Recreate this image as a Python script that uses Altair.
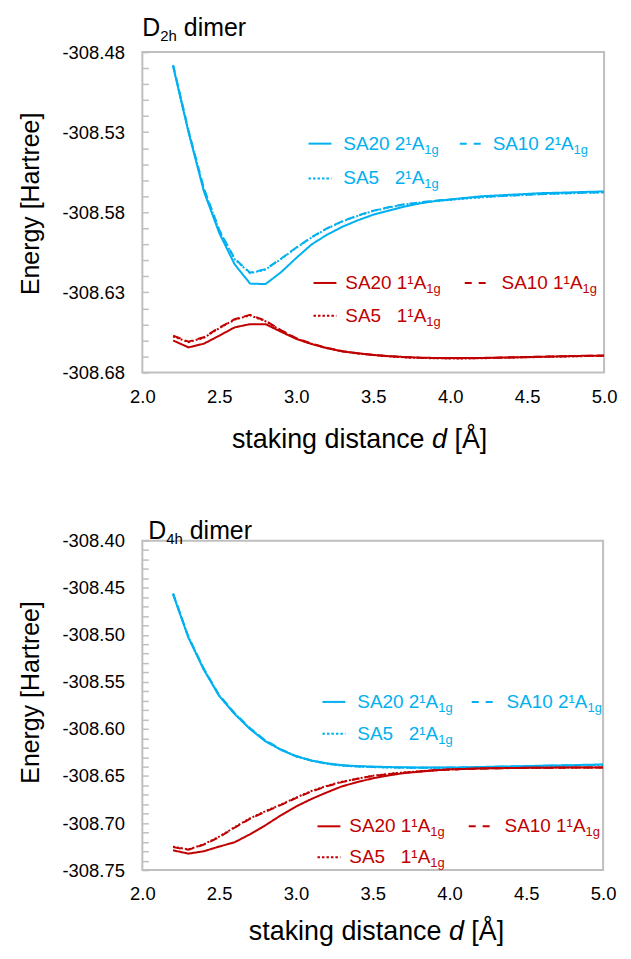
import altair as alt
import pandas as pd

# ---------------- data ----------------
d = [2.2, 2.3, 2.4, 2.5, 2.6, 2.7, 2.8, 2.9, 3.0, 3.1, 3.2, 3.3, 3.4, 3.5, 3.6,
     3.7, 3.8, 3.9, 4.0, 4.1, 4.2, 4.3, 4.4, 4.5, 4.6, 4.7, 4.8, 4.9, 5.0]

d2h_sa20_2 = [-308.489, -308.530, -308.567, -308.593, -308.6125, -308.6245, -308.6248, -308.6175, -308.6085,
              -308.600, -308.594, -308.589, -308.585, -308.5815, -308.579, -308.5765, -308.5745, -308.573,
              -308.572, -308.571, -308.570, -308.5695, -308.569, -308.5685, -308.568, -308.5678, -308.5675,
              -308.5672, -308.567]
d2h_sa10_2 = [-308.488, -308.529, -308.565, -308.591, -308.609, -308.6177, -308.6155, -308.609, -308.602,
              -308.5955, -308.590, -308.5855, -308.582, -308.579, -308.5768, -308.575, -308.5738, -308.5728,
              -308.572, -308.5712, -308.5705, -308.570, -308.5695, -308.569, -308.5686, -308.5683, -308.568,
              -308.5677, -308.5675]
d2h_sa5_2 = [-308.4885, -308.5295, -308.5655, -308.5915, -308.6093, -308.618, -308.6158, -308.6092, -308.6022,
             -308.5957, -308.5902, -308.5857, -308.5822, -308.5792, -308.577, -308.5752, -308.574, -308.573,
             -308.5722, -308.5714, -308.5707, -308.5701, -308.5696, -308.5691, -308.5687, -308.5684, -308.5681,
             -308.5678, -308.5676]
d2h_sa20_1 = [-308.660, -308.6643, -308.662, -308.657, -308.6518, -308.6498, -308.6498, -308.6545, -308.659,
              -308.6622, -308.6648, -308.6668, -308.668, -308.669, -308.6698, -308.6703, -308.6707, -308.6709,
              -308.671, -308.671, -308.6709, -308.6707, -308.6705, -308.6703, -308.6701, -308.6699, -308.6697,
              -308.6695, -308.6694]
d2h_sa10_1 = [-308.657, -308.6607, -308.658, -308.652, -308.6467, -308.644, -308.6477, -308.6535, -308.6585,
              -308.662, -308.6646, -308.6667, -308.668, -308.669, -308.6698, -308.6704, -308.6708, -308.671,
              -308.6711, -308.6711, -308.671, -308.6708, -308.6706, -308.6704, -308.6702, -308.670, -308.6698,
              -308.6696, -308.6695]
d2h_sa5_1 = [-308.6575, -308.661, -308.6583, -308.6523, -308.647, -308.6443, -308.648, -308.6538, -308.6588,
             -308.6622, -308.6647, -308.6668, -308.6681, -308.6691, -308.6699, -308.6705, -308.6709, -308.6711,
             -308.6712, -308.6712, -308.6711, -308.6709, -308.6707, -308.6705, -308.6703, -308.6701, -308.6699,
             -308.6697, -308.6696]

d4h_sa20_2 = [-308.457, -308.503, -308.537, -308.565, -308.584, -308.600, -308.613, -308.622, -308.629,
              -308.6335, -308.6365, -308.6385, -308.6395, -308.640, -308.6405, -308.6408, -308.641, -308.641,
              -308.641, -308.6408, -308.6405, -308.640, -308.6398, -308.6395, -308.639, -308.6388, -308.6385,
              -308.638, -308.6378]
d4h_sa10_2 = [-308.456, -308.502, -308.536, -308.564, -308.583, -308.599, -308.612, -308.6215, -308.6288,
              -308.6335, -308.6368, -308.6388, -308.6398, -308.6404, -308.6408, -308.641, -308.6412, -308.6412,
              -308.6411, -308.641, -308.6407, -308.6403, -308.640, -308.6397, -308.6393, -308.639, -308.6387,
              -308.6384, -308.6381]
d4h_sa5_2 = [-308.4565, -308.5025, -308.5365, -308.5645, -308.5835, -308.5995, -308.6125, -308.6218, -308.629,
             -308.6337, -308.637, -308.639, -308.640, -308.6406, -308.641, -308.6412, -308.6413, -308.6413,
             -308.6412, -308.6411, -308.6408, -308.6404, -308.6401, -308.6398, -308.6394, -308.6391, -308.6388,
             -308.6385, -308.6382]
d4h_sa20_1 = [-308.729, -308.7325, -308.730, -308.725, -308.7205, -308.712, -308.7025, -308.692, -308.6825,
              -308.6745, -308.6675, -308.661, -308.6565, -308.6525, -308.6495, -308.647, -308.6455, -308.644,
              -308.643, -308.6425, -308.642, -308.6418, -308.6415, -308.6413, -308.6412, -308.6411, -308.641,
              -308.641, -308.641]
d4h_sa10_1 = [-308.7256, -308.7284, -308.723, -308.715, -308.705, -308.6955, -308.688, -308.681, -308.6735,
              -308.6665, -308.661, -308.6565, -308.653, -308.650, -308.648, -308.6465, -308.6452, -308.644,
              -308.6432, -308.6426, -308.6421, -308.6418, -308.6416, -308.6414, -308.6413, -308.6412, -308.6411,
              -308.6411, -308.641]
d4h_sa5_1 = [-308.7252, -308.728, -308.7225, -308.7145, -308.7045, -308.695, -308.6875, -308.6805, -308.673,
             -308.666, -308.6605, -308.6562, -308.6528, -308.6498, -308.6478, -308.6463, -308.6451, -308.6439,
             -308.6431, -308.6425, -308.642, -308.6417, -308.6415, -308.6413, -308.6412, -308.6411, -308.641,
             -308.641, -308.6409]

METHODS = ["SA20", "SA10", "SA5"]
STATES = ["2¹A", "1¹A"]
SUBSCRIPT = "1g"
TITLES = [("D", "2h", "dimer"), ("D", "4h", "dimer")]
XTITLE = ("staking distance", "d", "[Å]")
YTITLE = "Energy [Hartree]"
x_ticks = [2.0, 2.5, 3.0, 3.5, 4.0, 4.5, 5.0]
y_dom_top = [-308.68, -308.48]
y_dom_bot = [-308.75, -308.40]

# ---------------- styling ----------------
FONT = "Liberation Sans"
BLUE = "#00B0F0"
RED = "#C00000"
GRAY = "#BFBFBF"
COLORS = [BLUE, RED]
DASHES = {"SA20": [1, 0], "SA10": [8, 5], "SA5": [2, 2]}
LEG_DASH = {"SA20": None, "SA10": [7, 7], "SA5": [2.5, 2]}
LEG_FS, SUB_FS = 19, 13
TICK_FS, XTITLE_FS, YTITLE_FS = 18.5, 27, 25

WID = {"S": 667, "A": 667, "D": 722, "¹": 333, " ": 278, "[": 278, "]": 278, "Å": 667,
       "s": 500, "t": 278, "a": 556, "k": 500, "i": 222, "n": 556, "g": 556, "d": 556,
       "c": 500, "e": 556, "m": 833, "r": 333, "h": 556}
for ch in "0123456789":
    WID[ch] = 556


def tw(s, fs):
    return sum(WID[c] for c in s) * fs / 1000.0


def panel(series, ydom, title, w, h, title_pos, xtitle_pos, legend):
    rows = []
    for (m, s), vals in series:
        for x, v in zip(d, vals):
            rows.append({"d": x, "E": v, "method": METHODS[m], "state": STATES[s]})
    df = pd.DataFrame(rows)
    n = int(round((ydom[1] - ydom[0]) / 0.01))
    yticks = [round(ydom[0] + 0.01 * i, 2) for i in range(n + 1)]
    lab = (f"round((datum.value - ({ydom[1]})) * 100) % 5 == 0 ? "
           f"'-' + format(abs(datum.value), '.2f') : ''")

    lines = alt.Chart(df).mark_line(strokeWidth=2, clip=True).encode(
        x=alt.X("d:Q", scale=alt.Scale(domain=[2, 5], nice=False, zero=False),
                axis=alt.Axis(values=x_ticks, format=".1f", ticks=False, domain=False, grid=False,
                              labelPadding=15, labelFontSize=TICK_FS, labelFlush=False,
                              labelOverlap=False, title="")),
        y=alt.Y("E:Q", scale=alt.Scale(domain=ydom, nice=False, zero=False),
                axis=alt.Axis(values=yticks, labelExpr=lab, offset=-6, tickSize=6, tickColor=GRAY,
                              tickWidth=1.5, domain=False, grid=False, labelPadding=18,
                              labelFontSize=TICK_FS, labelOverlap=False, labelFlush=False,
                              title=YTITLE, titleFontSize=YTITLE_FS, titleFontWeight="normal",
                              titleX=-118, titleY=152, titleAlign="center", titleBaseline="middle",
                              titleAngle=270)),
        color=alt.Color("state:N", scale=alt.Scale(domain=STATES, range=COLORS), legend=None),
        strokeDash=alt.StrokeDash("method:N", scale=alt.Scale(domain=METHODS,
                                  range=[DASHES[m] for m in METHODS]), legend=None),
    )

    # legend pieces
    texts, rules = [], {m: [] for m in METHODS}
    for m, s, lx0, lx1, tx, ty in legend:
        col = COLORS[s]
        texts.append({"t": METHODS[m], "px": tx, "py": ty, "fs": LEG_FS, "col": col})
        x1 = tx + tw("SA20 ", LEG_FS)
        texts.append({"t": STATES[s], "px": x1, "py": ty, "fs": LEG_FS, "col": col})
        x2 = x1 + tw(STATES[s], LEG_FS)
        texts.append({"t": SUBSCRIPT, "px": x2, "py": ty + 6, "fs": SUB_FS, "col": col})
        rules[METHODS[m]].append({"x0": lx0, "x1": lx1, "y": ty, "col": col})

    # title pieces (baseline alphabetic)
    tx, ty = title_pos
    ttl = [{"t": title[0], "px": tx, "py": ty, "fs": 25, "col": "#000"},
           {"t": title[1], "px": tx + tw(title[0], 25), "py": ty + 5, "fs": 15, "col": "#000"},
           {"t": title[2], "px": tx + tw(title[0], 25) + tw(title[1], 15) + tw(" ", 25), "py": ty,
            "fs": 25, "col": "#000"}]
    # x title pieces
    xx, xy = xtitle_pos
    xt = [{"t": XTITLE[0], "px": xx, "py": h + xy, "fs": XTITLE_FS, "col": "#000"},
          {"t": XTITLE[2], "px": xx + tw(XTITLE[0] + " d ", XTITLE_FS), "py": h + xy, "fs": XTITLE_FS,
           "col": "#000"}]
    xt_it = [{"t": XTITLE[1], "px": xx + tw(XTITLE[0] + " ", XTITLE_FS), "py": h + xy, "fs": XTITLE_FS,
              "col": "#000"}]

    def text_layer(rows_, baseline, style="normal"):
        return alt.Chart(pd.DataFrame(rows_)).mark_text(
            align="left", baseline=baseline, font=FONT, fontStyle=style).encode(
            x=alt.X("px:Q", scale=None, axis=None),
            y=alt.Y("py:Q", scale=None, axis=None),
            text="t:N",
            size=alt.Size("fs:Q", scale=None, legend=None),
            color=alt.Color("col:N", scale=None, legend=None),
        )

    layers = [lines, text_layer(texts, "middle"), text_layer(ttl, "alphabetic"),
              text_layer(xt, "middle"), text_layer(xt_it, "middle", "italic")]
    for m in METHODS:
        if not rules[m]:
            continue
        kw = {"strokeWidth": 2}
        if LEG_DASH[m]:
            kw["strokeDash"] = LEG_DASH[m]
        layers.append(alt.Chart(pd.DataFrame(rules[m])).mark_rule(**kw).encode(
            x=alt.X("x0:Q", scale=None, axis=None), x2="x1:Q",
            y=alt.Y("y:Q", scale=None, axis=None),
            color=alt.Color("col:N", scale=None, legend=None)))
    return alt.layer(*layers).properties(width=w, height=h)


top_series = [((0, 0), d2h_sa20_2), ((1, 0), d2h_sa10_2), ((2, 0), d2h_sa5_2),
              ((0, 1), d2h_sa20_1), ((1, 1), d2h_sa10_1), ((2, 1), d2h_sa5_1)]
bot_series = [((0, 0), d4h_sa20_2), ((1, 0), d4h_sa10_2), ((2, 0), d4h_sa5_2),
              ((0, 1), d4h_sa20_1), ((1, 1), d4h_sa10_1), ((2, 1), d4h_sa5_1)]

top_legend = [(0, 0, 167, 190, 202, 92), (1, 0, 319, 340, 352, 92), (2, 0, 167, 190, 202, 127),
              (0, 1, 172, 195, 204, 232), (1, 1, 324, 345, 361, 232), (2, 1, 172, 195, 204, 265)]
bot_legend = [(0, 0, 181, 204, 216, 162), (1, 0, 331, 354, 366, 162), (2, 0, 181, 204, 216, 194),
              (0, 1, 176, 199, 208, 287), (1, 1, 328, 349, 364, 287), (2, 1, 176, 199, 208, 318)]

top = panel(top_series, y_dom_top, TITLES[0], 464, 322, (0, -16), (90, 68), top_legend)
bot = panel(bot_series, y_dom_bot, TITLES[1], 463, 331, (6, -2), (107, 62), bot_legend)

chart = alt.vconcat(top, bot, spacing=64).properties(
    padding={"left": 10, "top": 5, "right": 5, "bottom": 5}
).configure_view(stroke=GRAY, strokeWidth=2).configure_axis(
    labelFont=FONT, titleFont=FONT, labelColor="#000", titleColor="#000"
)

chart.save("out.html", embed_options={"renderer": "svg", "actions": False})
